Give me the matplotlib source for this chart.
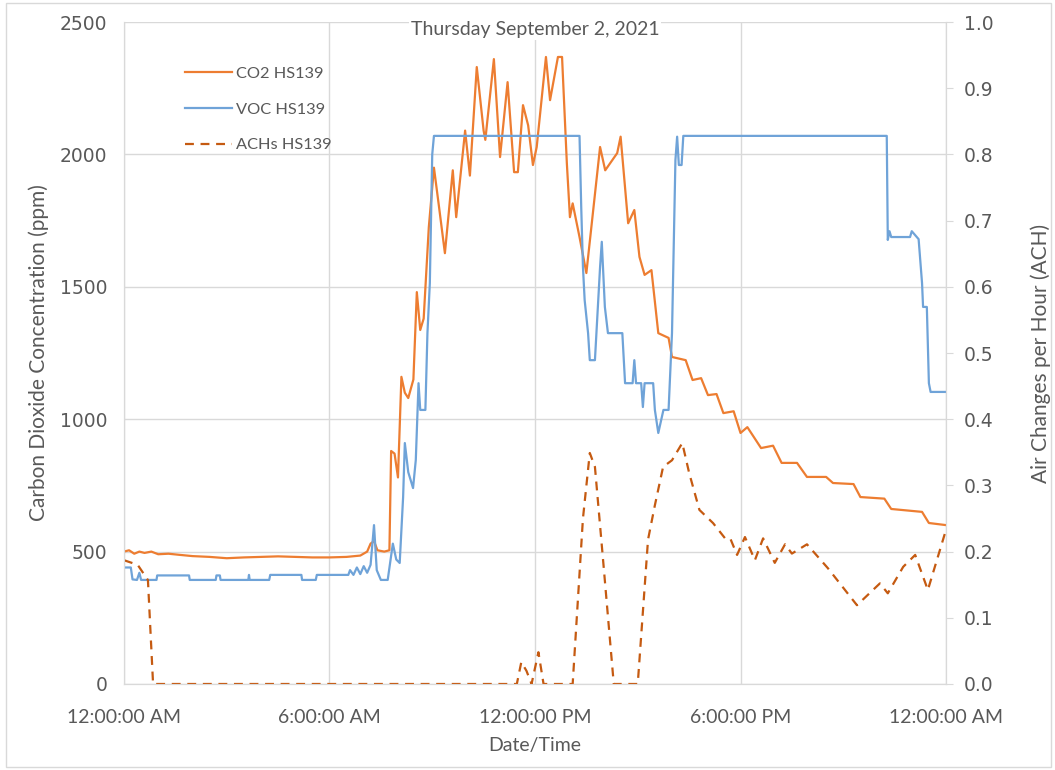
import numpy as np
import matplotlib
matplotlib.use('Agg')
import matplotlib.pyplot as plt
from matplotlib.patches import Rectangle

plt.rcParams['font.family'] = ['Lato', 'DejaVu Sans']

# time in hours since midnight
co2_t = [0, 0.15, 0.3, 0.45, 0.6, 0.8, 1.0, 1.3, 1.6, 2.0, 2.5, 3.0, 3.5, 4.0, 4.5, 5.0, 5.5,
         6.0, 6.5, 6.9, 7.1, 7.2, 7.3, 7.4, 7.6, 7.75, 7.8, 7.9, 8.0, 8.1, 8.2, 8.3, 8.45, 8.55,
         8.65, 8.75, 8.9, 9.05, 9.2, 9.37, 9.6, 9.7, 9.96, 10.1, 10.3, 10.5, 10.55, 10.8, 10.98,
         11.2, 11.39, 11.5, 11.65, 11.8, 11.94, 12.05, 12.32, 12.44, 12.67, 12.79, 12.93, 13.02,
         13.1, 13.3, 13.5, 13.9, 14.05, 14.4, 14.5, 14.72, 14.9, 15.05, 15.2, 15.4, 15.6, 15.9,
         16.0, 16.4, 16.6, 16.85, 17.05, 17.3, 17.5, 17.8, 18.0, 18.2, 18.6, 18.95, 19.2, 19.65,
         19.94, 20.5, 20.7, 21.3, 21.5, 22.2, 22.4, 23.3, 23.5, 24.0]
co2_ppm = [500, 505, 492, 500, 495, 500, 490, 492, 488, 483, 480, 475, 478, 480, 482, 480, 478,
           478, 480, 485, 500, 530, 540, 505, 500, 505, 880, 870, 780, 1160, 1100, 1080, 1150, 1480,
           1337, 1380, 1725, 1950, 1800, 1627, 1940, 1763, 2090, 1920, 2330, 2090, 2055, 2360, 1990,
           2273, 1933, 1933, 2186, 2110, 1960, 2028, 2368, 2205, 2368, 2368, 1967, 1763,
           1815, 1688, 1552, 2028, 1940, 2005, 2067, 1740, 1790, 1613, 1545, 1563, 1325, 1307,
           1235, 1223, 1148, 1155, 1091, 1095, 1023, 1030, 948, 970, 891, 900, 835, 835,
           782, 782, 759, 755, 706, 700, 661, 650, 608, 600]

voc_t = [0, 0.2, 0.25, 0.38, 0.45, 0.5, 0.95, 0.97, 1.9, 1.92, 2.68, 2.7, 2.8, 2.82, 3.63, 3.65,
         3.67, 4.24, 4.27, 5.18, 5.2, 5.6, 5.63, 6.55, 6.6, 6.7, 6.8, 6.9, 7.0, 7.1, 7.2, 7.3, 7.38,
         7.5, 7.7, 7.85, 7.95, 8.05, 8.15, 8.2, 8.3, 8.44, 8.52, 8.6, 8.65, 8.8, 8.86, 8.93, 9.0,
         9.05, 13.3, 13.35, 13.4, 13.45, 13.55, 13.6, 13.75, 13.9, 13.95, 14.04, 14.13, 14.55,
         14.63, 14.85, 14.9, 14.95, 15.1, 15.15, 15.2, 15.45, 15.5, 15.6, 15.75, 15.9, 16.0, 16.1,
         16.15, 16.2, 16.28, 16.33, 22.27, 22.3, 22.35, 22.4, 22.95, 23.0, 23.2, 23.3, 23.33,
         23.44, 23.5, 23.55, 24.0]
voc_val = [440, 440, 395, 393, 420, 393, 393, 410, 410, 393, 393, 410, 410, 393, 393, 412,
           393, 393, 412, 412, 393, 393, 412, 412, 430, 412, 440, 415, 445, 420, 450, 600, 430,
           393, 393, 530, 470, 457, 706, 910, 800, 740, 846, 1136, 1035, 1035, 1325, 1514, 2000,
           2070, 2070, 1800, 1575, 1450, 1325, 1223, 1223, 1575, 1670, 1424, 1325, 1325,
           1136, 1136, 1223, 1136, 1136, 1046, 1136, 1136, 1035, 948, 1035, 1035, 1325, 1979,
           2067, 1960, 1960, 2070, 2070, 1677, 1710, 1688, 1688, 1710, 1680, 1514, 1424,
           1424, 1136, 1103, 1103]

ach_t = [0, 0.4, 0.7, 0.85, 11.47, 11.6, 11.75, 11.9, 12.1, 12.25, 13.1, 13.4, 13.6, 13.75,
         14.0, 14.3, 15.0, 15.3, 15.5, 15.74, 16.0, 16.3, 16.5, 16.8, 17.2, 17.55, 17.7, 17.9,
         18.13, 18.42, 18.66, 19.0, 19.3, 19.5, 19.94, 20.55, 21.4, 22.07, 22.3, 22.75, 23.1,
         23.47, 24.0]
ach_val = [0.187, 0.18, 0.157, 0, 0, 0.033, 0.02, 0, 0.048, 0, 0, 0.25, 0.349, 0.328,
           0.18, 0, 0, 0.218, 0.27, 0.328, 0.338, 0.364, 0.319, 0.263, 0.243, 0.22, 0.22, 0.195,
           0.222, 0.187, 0.22, 0.183, 0.211, 0.197, 0.211, 0.175, 0.119, 0.152, 0.137, 0.177, 0.195,
           0.142, 0.233]

x_ticks = [0, 6, 12, 18, 24]
x_labels = ['12:00:00 AM', '6:00:00 AM', '12:00:00 PM', '6:00:00 PM', '12:00:00 AM']

grey = '#595959'
fig = plt.figure(figsize=(10.55, 7.7), dpi=100)
fig.patches.append(Rectangle((0.006, 0.004), 0.99, 0.992, transform=fig.transFigure,
                             fill=False, edgecolor='#d9d9d9', lw=1))
ax = fig.add_axes([0.1175, 0.1117, 0.7792, 0.8597])
ax2 = ax.twinx()

l1, = ax.plot(co2_t, co2_ppm, color='#ED7D31', lw=1.6, label='CO2 HS139')
l2, = ax.plot(voc_t, voc_val, color='#6FA3D8', lw=1.6, label='VOC HS139')
l3, = ax2.plot(ach_t, ach_val, color='#C55A11', lw=1.6, ls=(0, (4, 3)), label='ACHs HS139')

ax.set_xlim(0, 24)
ax.set_ylim(0, 2500)
ax2.set_ylim(0, 1.0)
ax.set_xticks(x_ticks)
ax.set_xticklabels(x_labels)
ax.set_yticks(np.arange(0, 2501, 500))
ax2.set_yticks(np.arange(0, 1.01, 0.1))
ax2.set_yticklabels([f'{v:.1f}' for v in np.arange(0, 1.01, 0.1)])

ax.grid(True, color='#d9d9d9', lw=1)
ax.set_axisbelow(True)
for a in (ax, ax2):
    for s in a.spines.values():
        s.set_color('#d9d9d9')
    a.spines['top'].set_visible(False)
ax.tick_params(axis='x', length=0, colors=grey, labelsize=14, pad=18)
ax.tick_params(axis='y', length=0, colors=grey, labelsize=13.5, pad=12)
ax2.tick_params(axis='y', length=5, color='#d9d9d9', labelcolor=grey, labelsize=13.5, pad=8)
for lab in ax.get_yticklabels() + ax2.get_yticklabels():
    lab.set_family('DejaVu Sans')

ax.set_ylabel('Carbon Dioxide Concentration (ppm)', color=grey, fontsize=15, labelpad=8)
ax2.set_ylabel('Air Changes per Hour (ACH)', color=grey, fontsize=15, labelpad=26)
ax.set_xlabel('Date/Time', color=grey, fontsize=14, labelpad=8)
ax.text(0.5, 0.988, 'Thursday September 2, 2021', transform=ax.transAxes, ha='center',
        va='center', color=grey, fontsize=14,
        bbox=dict(facecolor='white', edgecolor='none', pad=1))

ax2.legend(handles=[l1, l2, l3], loc='upper left', bbox_to_anchor=(0.074, 0.933),
           frameon=False, fontsize=11.8, handlelength=2.9, handletextpad=0.2,
           labelspacing=1.3, borderpad=0, borderaxespad=0, labelcolor=grey)

fig.savefig('out.png', dpi=100)
